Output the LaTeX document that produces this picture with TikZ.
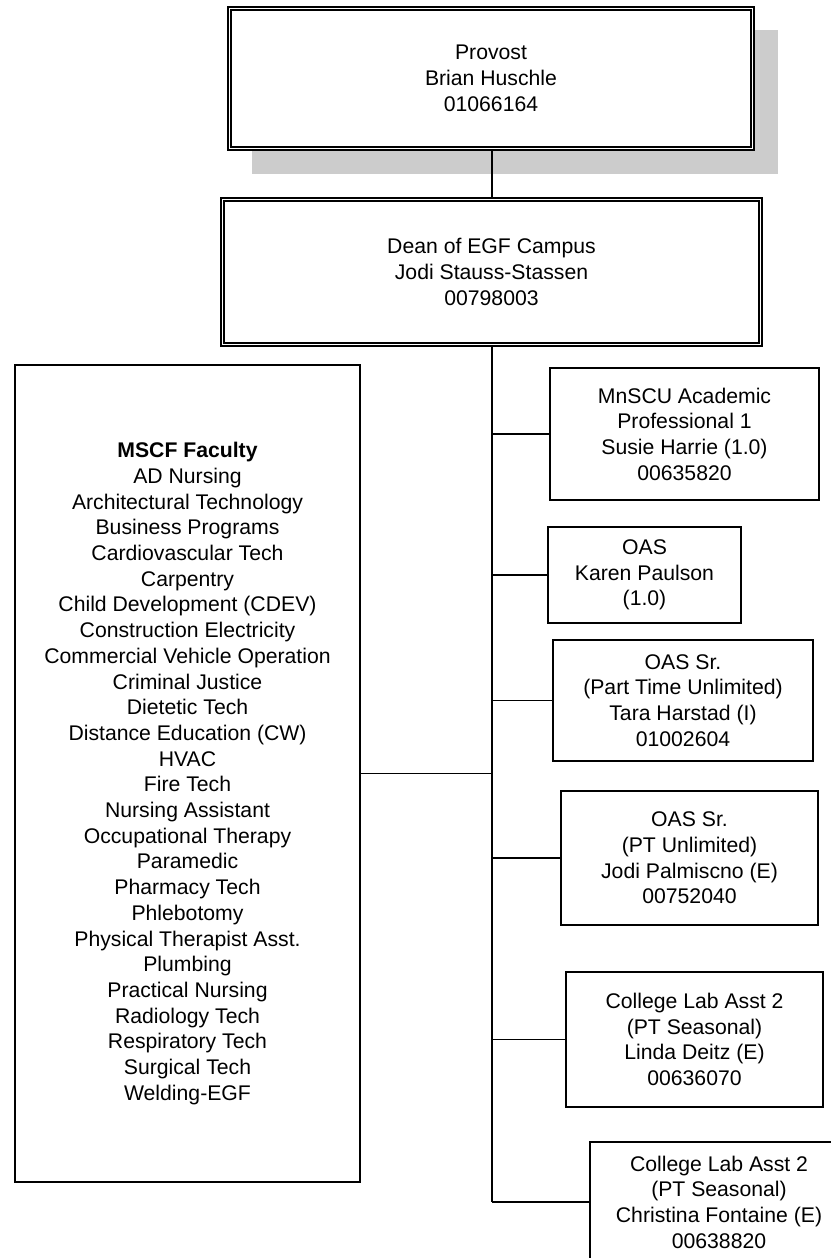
\documentclass[tikz,border=0pt]{standalone}
\usepackage{fontspec}
\setmainfont{Liberation Sans}
\usetikzlibrary{positioning}

\tikzset{
  post/.style={draw, line width=1.3pt, fill=white, align=center, inner sep=0pt,
    font=\fontsize{21.2}{25.7}\selectfont},
  headpost/.style={post, line width=1.5pt, double, double distance=1.8pt},
  link/.style={line width=1.4pt},
  trunk/.style={line width=1.9pt},
}

\begin{document}
\begin{tikzpicture}[x=1pt,y=-1pt]
		\useasboundingbox (0,0) rectangle (830,1258);

		% Shadow behind the provost
		\fill[black!20] (252,30) rectangle (778,174);

		% Top of the chart
		\node[headpost, minimum width=523pt, minimum height=140pt] (provost) at (491,78.5)
			{Provost\\Brian Huschle\\01066164};
		\node[headpost, minimum width=538pt, minimum height=145pt] (dean) at (491.5,272)
			{Dean of EGF Campus\\Jodi Stauss-Stassen\\00798003};

		% Faculty on the left
		\node[post, minimum width=345pt, minimum height=817pt] (mscf) at (187.5,773.5)
			{\textbf{MSCF Faculty}\\AD Nursing\\Architectural Technology\\Business Programs\\
			Cardiovascular Tech\\Carpentry\\Child Development (CDEV)\\Construction Electricity\\
			Commercial Vehicle Operation\\Criminal Justice\\Dietetic Tech\\Distance Education (CW)\\
			HVAC\\Fire Tech\\Nursing Assistant\\Occupational Therapy\\Paramedic\\Pharmacy Tech\\
			Phlebotomy\\Physical Therapist Asst.\\Plumbing\\Practical Nursing\\Radiology Tech\\
			Respiratory Tech\\Surgical Tech\\Welding-EGF};

		% Staff on the right
		\node[post, minimum width=269pt, minimum height=132pt] (mnscu) at (684.5,434)
			{MnSCU Academic\\Professional 1\\Susie Harrie (1.0)\\00635820};
		\node[post, minimum width=193pt, minimum height=96pt] (oas) at (644.5,575)
			{OAS\\Karen Paulson\\(1.0)};
		\node[post, minimum width=260pt, minimum height=121pt] (oassr) at (683,700.5)
			{OAS Sr.\\(Part Time Unlimited)\\Tara Harstad (I)\\01002604};
		\node[post, minimum width=257pt, minimum height=134pt] (oaspt) at (689.5,858)
			{OAS Sr.\\(PT Unlimited)\\Jodi Palmiscno (E)\\00752040};
		\node[post, minimum width=257pt, minimum height=135pt] (labone) at (694.5,1039.5)
			{College Lab Asst 2\\(PT Seasonal)\\Linda Deitz (E)\\00636070};
		\node[post, minimum width=258pt, minimum height=120pt] (labtwo) at (719,1202)
			{College Lab Asst 2\\(PT Seasonal)\\Christina Fontaine (E)\\00638820};

		% Connectors
		\coordinate (bottom) at (492,1202);
		\draw[trunk] (provost.south -| bottom) -- (dean.north -| bottom);
		\draw[trunk] (dean.south -| bottom) -- (bottom);
		\draw[link] (bottom) -- (labtwo.west);
		\draw[link] (mscf.east) -- (mscf.east -| bottom);
		\foreach \n in {mnscu, oas, oassr, oaspt, labone} {
				\draw[link] (\n.west -| bottom) -- (\n.west);
			}
	\end{tikzpicture}
\end{document}
